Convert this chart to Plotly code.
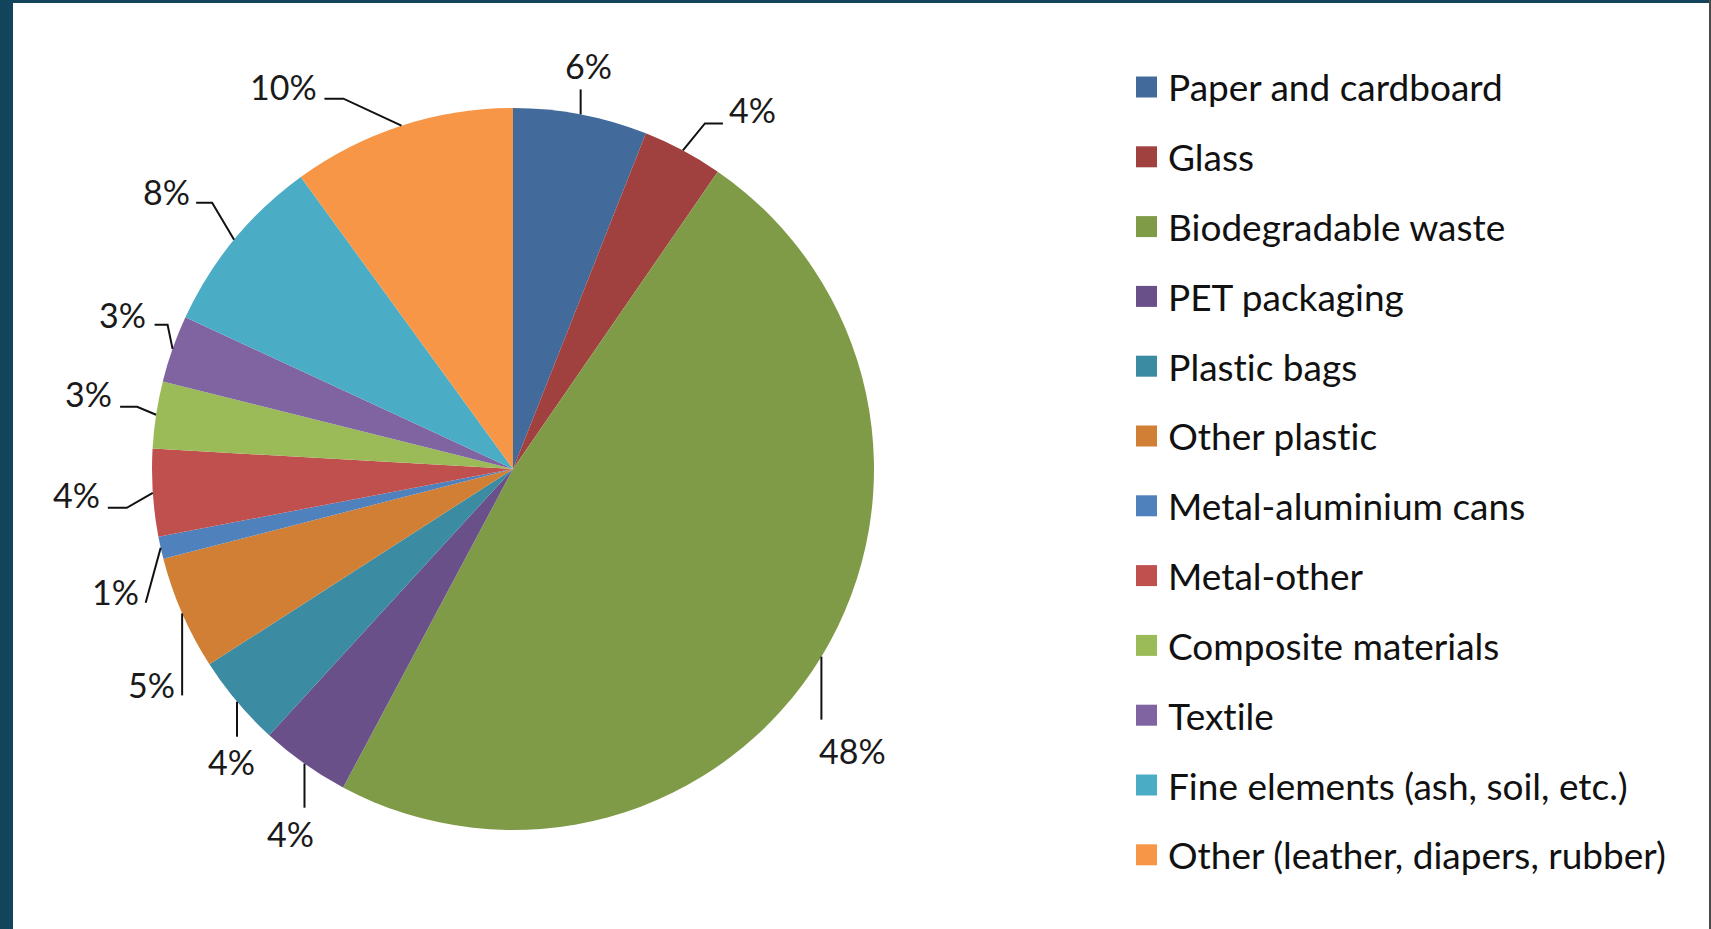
import math
import plotly.graph_objects as go

categories = [
    "Paper and cardboard",
    "Glass",
    "Biodegradable waste",
    "PET packaging",
    "Plastic bags",
    "Other plastic",
    "Metal-aluminium cans",
    "Metal-other",
    "Composite materials",
    "Textile",
    "Fine elements (ash, soil, etc.)",
    "Other (leather, diapers, rubber)",
]
values = [6.0, 3.6, 48.2, 4.0, 4.1, 5.1, 1.0, 3.9, 3.0, 3.0, 8.1, 10.0]
colors = [
    "#426A9A", "#A0413F", "#7F9B48", "#6A5088", "#3B8BA3", "#D17F35",
    "#4F81BD", "#C0504D", "#9BBB59", "#8064A2", "#4BACC6", "#F79646",
]

# layout of the data labels: text offset (px) from the leader tip on the slice edge,
# and the leader-line bend/end points (px) relative to that tip
label_offsets = [
    (8, -49), (70, -41), (31, 94), (-14, 70), (-6, 60), (-31, 71),
    (-45, 44), (-76, 2), (-68, -21), (-50, -34), (-68, -48), (-118, -39),
]
leader_points = [
    [(0, -25)],
    [(22, -27), (40, -27)],
    [(0, 63)],
    [(0, 44)],
    [(0, 35)],
    [(0, 82)],
    [(-15, 55)],
    [(-26, 15), (-45, 15)],
    [(-19, -8), (-36, -8)],
    [(-5, -24), (-18, -24)],
    [(-22, -37), (-38, -37)],
    [(-58, -27), (-77, -27)],
]

W, H = 1711, 929
cx, cy, R = 513, 469, 361
FONT = "Lato, 'Open Sans', sans-serif"
LABEL_SIZE = 34
LEGEND_SIZE = 37


def px(x, y):
    return x / W, 1 - y / H


fig = go.Figure()
fig.add_trace(go.Pie(
    labels=categories,
    values=values,
    sort=False,
    direction="clockwise",
    rotation=0,
    textinfo="none",
    hoverinfo="label+percent",
    marker=dict(colors=colors, line=dict(width=0)),
    showlegend=False,
    domain=dict(x=[(cx - R) / W, (cx + R) / W], y=[1 - (cy + R) / H, 1 - (cy - R) / H]),
))

annotations = []
shapes = []
total = sum(values)
cum = 0.0
for v, (dx, dy), pts in zip(values, label_offsets, leader_points):
    mid = (cum + v / 2) / total * 2 * math.pi
    cum += v
    s, c = math.sin(mid), math.cos(mid)
    ex, ey = cx + R * s, cy - R * c
    text = f"{round(v / total * 100)}%"
    # leader line
    x0, y0 = px(ex, ey)
    path = f"M {x0:.5f},{y0:.5f}"
    for (lx, ly) in pts:
        xx, yy = px(ex + lx, ey + ly)
        path += f" L {xx:.5f},{yy:.5f}"
    shapes.append(dict(type="path", xref="paper", yref="paper", path=path,
                       line=dict(color="#111111", width=2)))
    lx, ly = px(ex + dx, ey + dy)
    annotations.append(dict(
        x=lx, y=ly, xref="paper", yref="paper",
        text=text, showarrow=False, xanchor="center", yanchor="middle",
        font=dict(family=FONT, size=LABEL_SIZE, color="#1a1a1a"),
    ))

# legend
for i, (name, col) in enumerate(zip(categories, colors)):
    yc = 87 + i * 69.8
    x0, y0 = px(1136, yc - 10.5)
    x1, y1 = px(1157, yc + 10.5)
    shapes.append(dict(type="rect", xref="paper", yref="paper", x0=x0, x1=x1, y0=y0, y1=y1,
                       fillcolor=col, line=dict(width=0)))
    tx, ty = px(1166, yc)
    annotations.append(dict(
        x=tx, y=ty, xref="paper", yref="paper", text=name, showarrow=False,
        xanchor="left", yanchor="middle",
        font=dict(family=FONT, size=LEGEND_SIZE, color="#111111"),
    ))

# frame
shapes.append(dict(type="rect", xref="paper", yref="paper", x0=0, x1=13 / W, y0=0, y1=1,
                   fillcolor="#12445c", line=dict(width=0)))
shapes.append(dict(type="rect", xref="paper", yref="paper", x0=0, x1=1, y0=1 - 3 / H, y1=1,
                   fillcolor="#12445c", line=dict(width=0)))
shapes.append(dict(type="rect", xref="paper", yref="paper", x0=1709 / W, x1=1, y0=0, y1=1,
                   fillcolor="#4a4a4a", line=dict(width=0)))

fig.update_layout(
    width=W, height=H,
    margin=dict(l=0, r=0, t=0, b=0),
    paper_bgcolor="white",
    plot_bgcolor="white",
    shapes=shapes,
    annotations=annotations,
    showlegend=False,
)

post = (
    "document.body.style.margin='0';document.body.style.overflow='hidden';"
    "var st=document.createElement('style');"
    "st.textContent='text,tspan{font-variant-ligatures:none !important;font-feature-settings:\"liga\" 0,\"clig\" 0 !important;}';"
    "document.head.appendChild(st);"
)
fig.write_html("out.html", post_script=post, config={"displayModeBar": False})
